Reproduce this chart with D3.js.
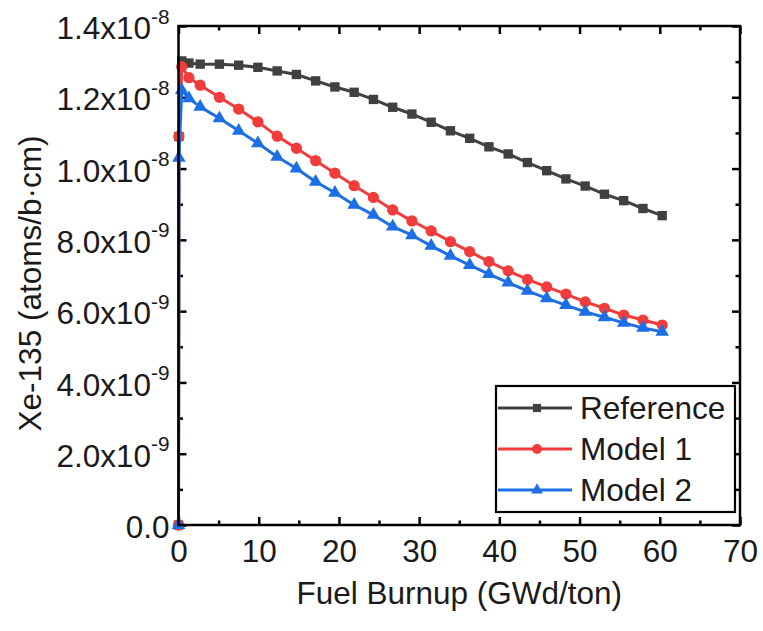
<!DOCTYPE html>
<html>
<head>
<meta charset="utf-8">
<script src="https://cdn.jsdelivr.net/npm/d3@7"></script>
<style>
  html, body { margin: 0; padding: 0; background: #fff; }
  svg { display: block; font-family: "Liberation Sans", Arial, sans-serif; }
</style>
</head>
<body>
<svg id="chart" width="763" height="631"></svg>
<script>
// Burnup steps (GWd/ton) shared by all three depletion runs
const burnup = [0, 0.05, 0.4, 1.3, 2.7, 5.1, 7.5, 9.9, 12.3, 14.7, 17.1, 19.5, 21.9, 24.3,
  26.7, 29.1, 31.5, 33.9, 36.3, 38.7, 41.1, 43.5, 45.9, 48.3, 50.7, 53.1, 55.5, 57.9, 60.3];

// Xe-135 number density (atoms/b·cm)
const referenceXe = [0, 1.09e-8, 1.302e-8, 1.296e-8, 1.293e-8, 1.293e-8, 1.290e-8, 1.284e-8,
  1.274e-8, 1.264e-8, 1.246e-8, 1.229e-8, 1.214e-8, 1.194e-8, 1.172e-8, 1.153e-8, 1.130e-8,
  1.106e-8, 1.085e-8, 1.061e-8, 1.041e-8, 1.017e-8, 0.994e-8, 0.971e-8, 0.951e-8, 0.928e-8,
  0.910e-8, 0.888e-8, 0.868e-8];
const model1Xe = [0, 1.09e-8, 1.286e-8, 1.255e-8, 1.234e-8, 1.200e-8, 1.167e-8, 1.131e-8,
  1.091e-8, 1.057e-8, 1.022e-8, 0.987e-8, 0.952e-8, 0.919e-8, 0.884e-8, 0.853e-8, 0.825e-8,
  0.795e-8, 0.767e-8, 0.739e-8, 0.713e-8, 0.689e-8, 0.668e-8, 0.648e-8, 0.626e-8, 0.608e-8,
  0.589e-8, 0.575e-8, 0.561e-8];
const model2Xe = [0, 1.03e-8, 1.220e-8, 1.197e-8, 1.173e-8, 1.141e-8, 1.106e-8, 1.071e-8,
  1.033e-8, 1.000e-8, 0.963e-8, 0.932e-8, 0.898e-8, 0.870e-8, 0.837e-8, 0.813e-8, 0.783e-8,
  0.755e-8, 0.729e-8, 0.704e-8, 0.680e-8, 0.657e-8, 0.636e-8, 0.617e-8, 0.598e-8, 0.583e-8,
  0.567e-8, 0.553e-8, 0.542e-8];

const seriesNames = ["Reference", "Model 1", "Model 2"];

// Axis ticks
const xMajorTicks = [0, 10, 20, 30, 40, 50, 60, 70];
const xMinorTicks = [5, 15, 25, 35, 45, 55, 65];
const yMajorTicks = [0, 2e-9, 4e-9, 6e-9, 8e-9, 1.0e-8, 1.2e-8, 1.4e-8];
const yMinorTicks = [1e-9, 3e-9, 5e-9, 7e-9, 9e-9, 1.1e-8, 1.3e-8];
const yTickMantissa = ["0.0", "2.0x10", "4.0x10", "6.0x10", "8.0x10", "1.0x10", "1.2x10", "1.4x10"];
const yTickExponent = ["", "-9", "-9", "-9", "-9", "-8", "-8", "-8"];

const xTitle = "Fuel Burnup (GWd/ton)";
const yTitle = "Xe-135 (atoms/b·cm)";

// ---- drawing ----
const svg = d3.select("#chart");
const plotL = 178.5, plotR = 740, plotT = 26, plotB = 525;
const x = d3.scaleLinear().domain([0, 70]).range([plotL, plotR]);
const y = d3.scaleLinear().domain([0, 1.4e-8]).range([plotB, plotT]);

const styles = [
  { color: "#404040", symbol: d3.symbolSquare, size: 88 },
  { color: "#f23c3c", symbol: d3.symbolCircle, size: 100 },
  { color: "#1c6fe6", symbol: d3.symbolTriangle, size: 80 }
];
const seriesValues = [referenceXe, model1Xe, model2Xe];
const fontSize = 31.5;

// Tick marks (inward on all four sides)
function tickAxis(axis, tx, ty, len) {
  return svg.append("g").attr("transform", `translate(${tx},${ty})`)
    .call(axis.tickSize(len).tickSizeOuter(0).tickFormat(""))
    .call(g => g.select(".domain").remove())
    .call(g => g.selectAll("line").attr("stroke", "#000").attr("stroke-width", 2.5));
}
tickAxis(d3.axisBottom(x).tickValues(xMajorTicks), 0, plotB, -8);
tickAxis(d3.axisBottom(x).tickValues(xMinorTicks), 0, plotB, -4.5);
tickAxis(d3.axisTop(x).tickValues(xMajorTicks), 0, plotT, -8);
tickAxis(d3.axisTop(x).tickValues(xMinorTicks), 0, plotT, -4.5);
tickAxis(d3.axisLeft(y).tickValues(yMajorTicks), plotL, 0, -8);
tickAxis(d3.axisLeft(y).tickValues(yMinorTicks), plotL, 0, -4.5);
tickAxis(d3.axisRight(y).tickValues(yMajorTicks), plotR, 0, -8);
tickAxis(d3.axisRight(y).tickValues(yMinorTicks), plotR, 0, -4.5);

// X tick labels
svg.append("g").attr("transform", `translate(0,${plotB})`)
  .call(d3.axisBottom(x).tickValues(xMajorTicks).tickSize(0).tickPadding(15).tickFormat(d3.format("d")))
  .call(g => g.select(".domain").remove())
  .call(g => g.selectAll("text").attr("font-size", fontSize).attr("fill", "#1a1a1a")
    .attr("font-family", "'Liberation Sans', Arial, sans-serif"));

// Y tick labels with superscript exponent
const yLab = svg.append("g").attr("transform", `translate(${plotL},0)`)
  .call(d3.axisLeft(y).tickValues(yMajorTicks).tickSize(0).tickPadding(9).tickFormat(""))
  .call(g => g.select(".domain").remove());
yLab.selectAll(".tick text")
  .attr("font-size", fontSize).attr("fill", "#1a1a1a")
  .attr("font-family", "'Liberation Sans', Arial, sans-serif")
  .attr("dy", "0.4em")
  .each(function (d, i) {
    const t = d3.select(this);
    t.append("tspan").text(yTickMantissa[i]);
    if (yTickExponent[i]) {
      t.append("tspan").attr("font-size", fontSize * 0.66).attr("dy", "-0.75em").text(yTickExponent[i]);
    }
  });

// Axis titles
svg.append("text").attr("x", (plotL + plotR) / 2).attr("y", 604)
  .attr("text-anchor", "middle").attr("font-size", fontSize).attr("fill", "#1a1a1a").text(xTitle);
svg.append("text").attr("transform", `translate(41,${(plotT + plotB) / 2 + 8}) rotate(-90)`)
  .attr("text-anchor", "middle").attr("font-size", fontSize).attr("fill", "#1a1a1a").text(yTitle);

// Data lines and markers
const plot = svg.append("g");
const line = d3.line().x((d, i) => x(burnup[i])).y(d => y(d));
seriesValues.forEach((vals, s) => {
  const st = styles[s];
  const g = plot.append("g");
  g.append("path").datum(vals).attr("d", line)
    .attr("fill", "none").attr("stroke", st.color).attr("stroke-width", 3)
    .attr("stroke-linejoin", "round");
  g.selectAll("path.mk").data(vals).join("path").attr("class", "mk")
    .attr("transform", (d, i) => `translate(${x(burnup[i])},${y(d)})`)
    .attr("d", d3.symbol().type(st.symbol).size(st.size))
    .attr("fill", st.color);
});

// Frame
svg.append("rect").attr("x", plotL).attr("y", plotT)
  .attr("width", plotR - plotL).attr("height", plotB - plotT)
  .attr("fill", "none").attr("stroke", "#000").attr("stroke-width", 2.5);

// Legend
const legend = svg.append("g");
legend.append("rect").attr("x", 496).attr("y", 386).attr("width", 239).attr("height", 126)
  .attr("fill", "#fff").attr("stroke", "#000").attr("stroke-width", 2.2);
const rowY = [408, 449, 490];
seriesNames.forEach((name, s) => {
  const st = styles[s];
  const r = legend.append("g").attr("transform", `translate(0,${rowY[s]})`);
  r.append("line").attr("x1", 498).attr("x2", 572).attr("stroke", st.color).attr("stroke-width", 3);
  r.append("path").attr("transform", "translate(537,0)")
    .attr("d", d3.symbol().type(st.symbol).size(st.size * 0.75)).attr("fill", st.color);
  r.append("text").attr("x", 580).attr("y", 11).attr("font-size", fontSize)
    .attr("fill", "#1a1a1a").text(name);
});
</script>
</body>
</html>
